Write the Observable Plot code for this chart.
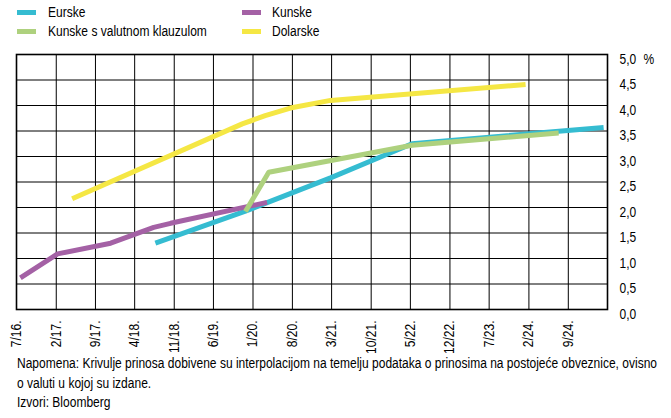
<!DOCTYPE html>
<html>
<head>
<meta charset="utf-8">
<script src="https://cdn.jsdelivr.net/npm/d3@7"></script>
<script src="https://cdn.jsdelivr.net/npm/@observablehq/plot@0.6"></script>
<style>
  body { margin: 0; background: #fff; }
  #wrap { position: relative; width: 671px; height: 418px; overflow: hidden; font-family: "Liberation Sans", Arial, sans-serif; color: #000; }
  #legend { position: absolute; left: 0; top: 0; width: 671px; height: 40px; }
  .item { position: absolute; font-size: 14px; line-height: 16px; display: flex; align-items: center; white-space: nowrap; }
  .sw { width: 19px; height: 5px; margin-right: 12px; flex: none; }
  .lt, .cl { display: inline-block; transform-origin: 0 50%; white-space: nowrap; }
  #chart { position: absolute; left: 0; top: 40px; }
  #caption { position: absolute; left: 17px; top: 354px; font-size: 14px; line-height: 19.5px; white-space: nowrap; }
  #caption div { height: 19.5px; }
</style>
</head>
<body>
<div id="wrap">
  <div id="legend"></div>
  <div id="chart"></div>
  <div id="caption"></div>
</div>
<script>
// ---- data ----
const seriesNames = ["Eurske", "Kunske", "Kunske s valutnom klauzulom", "Dolarske"];
const seriesColors = ["#35bcd1", "#a461a5", "#aed17e", "#f5e744"];

const eurDates   = ["2018-07-22", "2019-11-21", "2021-02-23", "2022-05-10", "2025-03-11"];
const eurValues  = [1.30, 1.93, 2.58, 3.25, 3.57];

const hrkDates   = ["2016-07-22", "2017-02-08", "2017-11-22", "2018-07-13", "2018-10-12", "2020-03-17"];
const hrkValues  = [0.62, 1.09, 1.30, 1.61, 1.69, 2.10];

const fxDates    = ["2019-11-21", "2020-03-26", "2022-05-10", "2024-07-11"];
const fxValues   = [1.92, 2.69, 3.22, 3.46];

const usdDates   = ["2017-04-28", "2019-11-04", "2020-03-07", "2020-07-21", "2021-02-23", "2024-01-14"];
const usdValues  = [2.17, 3.64, 3.80, 3.95, 4.10, 4.41];

const tickLabels = ["7/16.", "2/17.", "9/17.", "4/18.", "11/18.", "6/19.", "1/20.", "8/20.", "3/21.", "10/21.", "5/22.", "12/22.", "7/23.", "2/24.", "9/24."];
const yTicks = [0, 0.5, 1, 1.5, 2, 2.5, 3, 3.5, 4, 4.5, 5];
const unitLabel = "%";

const legendOrder = ["Eurske", "Kunske s valutnom klauzulom", "Kunske", "Dolarske"];
const captionLines = [
  "Napomena: Krivulje prinosa dobivene su interpolacijom na temelju podataka o prinosima na postojeće obveznice, ovisno",
  "o valuti u kojoj su izdane.",
  "Izvori: Bloomberg"
];

// ---- build tables ----
const parse = d3.utcParse("%Y-%m-%d");
const seriesData = [
  [eurDates, eurValues], [hrkDates, hrkValues], [fxDates, fxValues], [usdDates, usdValues]
];
const rows = [];
seriesData.forEach(([ds, vs], k) => ds.forEach((d, i) => rows.push({series: seriesNames[k], date: parse(d), value: vs[i]})));

const tickDates = tickLabels.map(l => {
  const [m, y] = l.replace(".", "").split("/").map(Number);
  return new Date(Date.UTC(2000 + y, m - 1, 1));
});
const step = 7;
const endDate = d3.utcMonth.offset(tickDates[tickDates.length - 1], step);
const gridDates = [...tickDates, endDate];
const labelByTime = new Map(tickDates.map((d, i) => [+d, tickLabels[i]]));

// ---- caption (first, to measure condensing factor) ----
const cap = document.getElementById("caption");
const capSpans = captionLines.map(t => {
  const d = document.createElement("div");
  const s = document.createElement("span");
  s.className = "cl";
  s.textContent = t;
  d.appendChild(s);
  cap.appendChild(d);
  return s;
});
const targetCaptionWidth = 640;
const k = targetCaptionWidth / capSpans[0].getBoundingClientRect().width;
capSpans.forEach(s => s.style.transform = `scaleX(${k})`);

// ---- legend ----
const legendPos = [
  {left: 17, top: 4}, {left: 17, top: 23}, {left: 242, top: 4}, {left: 242, top: 23}
];
const legend = document.getElementById("legend");
legendOrder.forEach((name, i) => {
  const el = document.createElement("div");
  el.className = "item";
  el.style.left = legendPos[i].left + "px";
  el.style.top = legendPos[i].top + "px";
  const sw = document.createElement("span");
  sw.className = "sw";
  sw.style.background = seriesColors[seriesNames.indexOf(name)];
  if (i >= 2) sw.style.marginRight = "11px";
  const lt = document.createElement("span");
  lt.className = "lt";
  lt.textContent = name;
  lt.style.transform = `scaleX(${k})`;
  el.appendChild(sw);
  el.appendChild(lt);
  legend.appendChild(el);
});

// ---- chart ----
const fontFamily = '"Liberation Sans", Arial, sans-serif';
const chart = Plot.plot({
  width: 671,
  height: 314,
  marginLeft: 16,
  marginRight: 64,
  marginTop: 14,
  marginBottom: 45,
  style: {fontFamily, fontSize: "14px", color: "#000", background: "transparent", overflow: "visible"},
  x: {type: "utc", domain: [tickDates[0], endDate]},
  y: {domain: [0, 5]},
  color: {domain: seriesNames, range: seriesColors},
  marks: [
    Plot.ruleX(gridDates, {x: d => d, stroke: "#000", strokeWidth: 1}),
    Plot.ruleY(yTicks, {y: d => d, stroke: "#000", strokeWidth: 1}),
    Plot.frame({stroke: "#000", strokeWidth: 1.6}),
    Plot.line(rows, {x: "date", y: "value", z: "series", stroke: "series", strokeWidth: 5, strokeLinecap: "butt", strokeLinejoin: "round"}),
    Plot.axisX(tickDates, {tickFormat: d => labelByTime.get(+d), tickRotate: -90, tickSize: 0, tickPadding: 11, label: null, fontSize: 14}),
    Plot.axisY(yTicks, {anchor: "right", tickFormat: d => d.toFixed(1).replace(".", ","), tickSize: 0, tickPadding: 12, dy: 5, label: null, fontSize: 14}),
    Plot.text([unitLabel], {text: d => d, frameAnchor: "top-right", lineAnchor: "middle", dx: 36, dy: 5, textAnchor: "start", fontSize: 14})
  ]
});
document.getElementById("chart").appendChild(chart);

// condense svg texts to match the narrow typeface
chart.querySelectorAll("text").forEach(t => {
  const w = t.getComputedTextLength();
  if (w > 0) {
    t.setAttribute("textLength", (w * k).toFixed(2));
    t.setAttribute("lengthAdjust", "spacingAndGlyphs");
  }
});
</script>
</body>
</html>
